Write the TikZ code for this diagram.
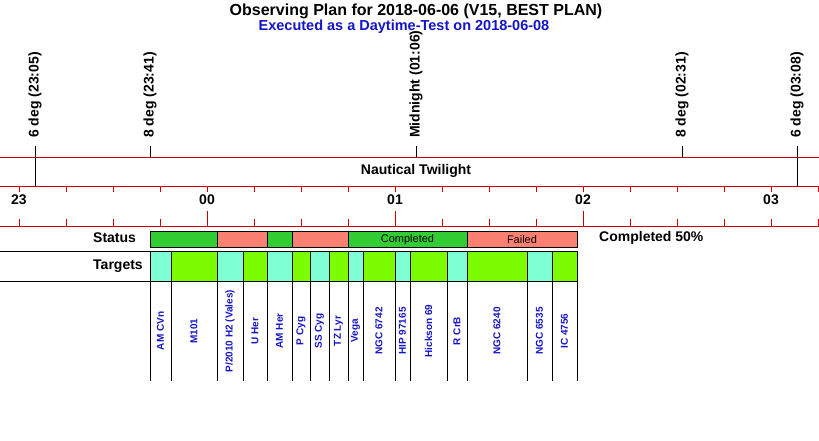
\documentclass[tikz,border=0pt]{standalone}
\usepackage{fontspec}
\setmainfont{Liberation Sans}
\definecolor{axred}{RGB}{204,0,0}
\definecolor{okgreen}{RGB}{50,205,50}
\definecolor{badred}{RGB}{250,128,114}
\definecolor{aquacell}{RGB}{127,255,212}
\definecolor{lgreen}{RGB}{124,252,0}
\definecolor{tblue}{RGB}{20,20,200}
\begin{document}
\begin{tikzpicture}[x=1pt,y=-1pt,
  redln/.style={draw=axred,line width=0.9pt},
  blk/.style={draw=black,line width=0.9pt},
  lab/.style={font=\bfseries\fontsize{14}{14}\selectfont,inner sep=0pt},
  mark/.append style={},
  rlab/.style={lab,rotate=90,anchor=west},
  stseg/.style={draw=black,line width=0.9pt},
  sttext/.style={font=\fontsize{11}{11}\selectfont,inner sep=0pt},
  tcell/.style={draw=black,line width=0.9pt},
  tlab/.style={font=\bfseries\fontsize{10}{10}\selectfont,text=tblue,rotate=90,inner sep=0pt}]
\useasboundingbox (0,0) rectangle (819,441);
% titles
\node[font=\bfseries\fontsize{16}{16}\selectfont,inner sep=0pt] (title) at (416,11) {Observing Plan for 2018-06-06 (V15, BEST PLAN)};
\node[font=\bfseries\fontsize{14.5}{14.5}\selectfont,text=tblue,inner sep=0pt] (subtitle) at (404,27) {Executed as a Daytime-Test on 2018-06-08};
% red band lines
\coordinate (l1a) at (0,157); \coordinate (l1b) at (819,157);
\coordinate (l2a) at (0,186); \coordinate (l2b) at (819,186);
\coordinate (l3a) at (0,226); \coordinate (l3b) at (819,226);
\draw[redln] (l1a) -- (l1b);
\draw[redln] (l2a) -- (l2b);
\draw[redln] (l3a) -- (l3b);
% twilight markers
\foreach \n/\x/\yb/\t in {a/35/186/{6 deg (23:05)},b/150/157/{8 deg (23:41)},c/416/157/{Midnight (01:06)},d/682/157/{8 deg (02:31)},e/797/186/{6 deg (03:08)}}{
  \node[rlab] (mk\n) at (\x,138) {\t};
  \coordinate (mt\n) at (\x,146);
  \coordinate (mb\n) at (\x,\yb);
  \draw[blk] (mt\n) -- (mb\n);
}
\node[lab] (twi) at (416,171) {Nautical Twilight};
% ticks
\foreach \k in {0,...,17}{
  \pgfmathsetmacro{\xx}{19+47*\k}
  \coordinate (tt\k) at (\xx,186); \coordinate (tu\k) at (\xx,192);
  \draw[redln] (tt\k) -- (tu\k);
  \coordinate (bt\k) at (\xx,226); \coordinate (bu\k) at (\xx,218.5);
  \draw[redln] (bt\k) -- (bu\k);
}
\foreach \x in {207,395,583}{
  \coordinate (lt\x) at (\x,226); \coordinate (lu\x) at (\x,211);
  \draw[redln] (lt\x) -- (lu\x);
}
\foreach \x/\h in {19/23,207/00,395/01,583/02,771/03}{
  \node[lab] (h\h) at (\x,200) {\h};
}
% status row
\node[lab,anchor=west] (status) at (93,238) {Status};
\foreach \n/\a/\b/\c in {1/150/217/okgreen,2/217/267/badred,3/267/292/okgreen,4/292/348/badred,5/348/467/okgreen,6/467/577/badred}{
  \draw[stseg,fill=\c] (\a,231) rectangle (\b,247);
}
\node[sttext] (stc) at (407.5,239.5) {Completed};
\node[sttext] (stf) at (522,239.5) {Failed};
\node[lab,anchor=west] (pct) at (599,238) {Completed 50\%};
% targets row
\node[lab,anchor=west] (targets) at (93,266) {Targets};
\coordinate (r1a) at (0,251); \coordinate (r1b) at (577,251);
\coordinate (r2a) at (0,281); \coordinate (r2b) at (577,281);
\draw[blk] (r1a) -- (r1b);
\draw[blk] (r2a) -- (r2b);
\foreach \a/\b/\c in {150/171/aquacell,171/217/lgreen,217/243/aquacell,243/267/lgreen,267/292/aquacell,292/310/lgreen,310/329/aquacell,329/348/lgreen,348/363/aquacell,363/395/lgreen,395/410/aquacell,410/447/lgreen,447/467/aquacell,467/527/lgreen,527/552/aquacell,552/577/lgreen}{
  \draw[tcell,fill=\c] (\a,251) rectangle (\b,281);
}
\foreach \x in {150,171,217,243,267,292,310,329,348,363,395,410,447,467,527,552,577}{
  \coordinate (vt\x) at (\x,281); \coordinate (vb\x) at (\x,381);
  \draw[blk] (vt\x) -- (vb\x);
}
\node[tlab] (t1) at (160.5,331) {AM CVn};
\node[tlab] (t2) at (194,331) {M101};
\node[tlab] (t3) at (230,331) {P/2010 H2 (Vales)};
\node[tlab] (t4) at (255,331) {U Her};
\node[tlab] (t5) at (279.5,331) {AM Her};
\node[tlab] (t6) at (301,331) {P Cyg};
\node[tlab] (t7) at (319.5,331) {SS Cyg};
\node[tlab] (t8) at (338.5,331) {TZ Lyr};
\node[tlab] (t9) at (355.5,331) {Vega};
\node[tlab] (t10) at (379,331) {NGC 6742};
\node[tlab] (t11) at (402.5,331) {HIP 97165};
\node[tlab] (t12) at (428.5,331) {Hickson 69};
\node[tlab] (t13) at (457,331) {R CrB};
\node[tlab] (t14) at (497,331) {NGC 6240};
\node[tlab] (t15) at (539.5,331) {NGC 6535};
\node[tlab] (t16) at (564.5,331) {IC 4756};
\end{tikzpicture}
\end{document}
